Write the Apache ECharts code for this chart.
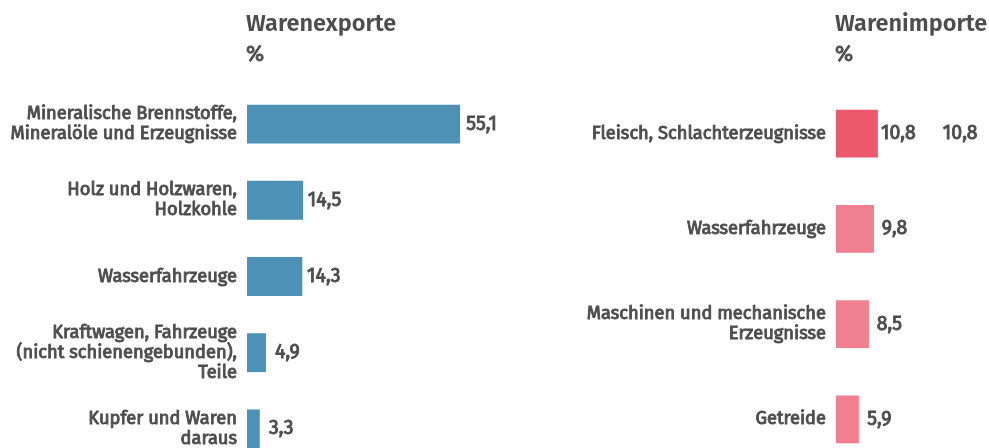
<!DOCTYPE html>
<html>
<head>
<meta charset="utf-8">
<script src="https://cdn.jsdelivr.net/npm/echarts@6/dist/echarts.min.js"></script>
<style>
	html, body { margin: 0; padding: 0; background: #fff; }
	#chart { width: 989px; height: 448px; }
</style>
</head>
<body>
<div id="chart"></div>
<script>
// Warenexporte
var exportCats = [
	'Mineralische Brennstoffe,\nMineralöle und Erzeugnisse',
	'Holz und Holzwaren,\nHolzkohle',
	'Wasserfahrzeuge',
	'Kraftwagen, Fahrzeuge\n(nicht schienengebunden),\nTeile',
	'Kupfer und Waren\ndaraus'
];
var exportValues = [55.1, 14.5, 14.3, 4.9, 3.3];

// Warenimporte
var importCats = [
	'Fleisch, Schlachterzeugnisse',
	'Wasserfahrzeuge',
	'Maschinen und mechanische\nErzeugnisse',
	'Getreide'
];
var importValues = [10.8, 9.8, 8.5, 5.9];

var FONT = '"Fira Sans", "Noto Sans", sans-serif';
var TXT = '#4d4d4d';

function fmt(v){
	return v.toFixed(1).replace('.', ',');
}

var valStyle = { fontSize: 19.5, color: TXT, fontFamily: FONT, textBorderColor: TXT, textBorderWidth: 0.9 };
var valueRich = {
	v: echarts.util.extend({ width: 35, align: 'center' }, valStyle),
	g: echarts.util.extend({ padding: [0, 0, 0, 27] }, valStyle)
};

function catAxis(idx, data){
	return {
		type: 'category',
		gridIndex: idx,
		inverse: true,
		data: data,
		axisLine: { show: false },
		axisTick: { show: false },
		axisLabel: {
			margin: 10,
			color: TXT,
			fontFamily: FONT,
			fontSize: 18.3,
			lineHeight: 20,
			textBorderColor: TXT,
			textBorderWidth: 0.9,
			align: 'right'
		}
	};
}

function valAxis(idx, max){
	return {
		type: 'value',
		gridIndex: idx,
		min: 0,
		max: max,
		show: false,
		splitLine: { show: false }
	};
}

var titleStyle = { fontFamily: FONT, fontSize: 23.5, fontWeight: 600, color: TXT };
var subStyle = { fontFamily: FONT, fontSize: 22, color: TXT, textBorderColor: TXT, textBorderWidth: 0.9 };

var chart = echarts.init(document.getElementById('chart'));
chart.setOption({
	animation: false,
	title: [{
		text: 'Warenexporte',
		subtext: '%',
		left: 241,
		top: 7,
		itemGap: 8,
		textStyle: titleStyle,
		subtextStyle: subStyle
	}, {
		text: 'Warenimporte',
		subtext: '%',
		left: 830,
		top: 7,
		itemGap: 8,
		textStyle: titleStyle,
		subtextStyle: subStyle
	}],
	grid: [
		{ left: 247, width: 232, top: 86, height: 381, outerBoundsMode: 'none', containLabel: false },
		{ left: 836, width: 155, top: 86, height: 381, outerBoundsMode: 'none', containLabel: false }
	],
	xAxis: [valAxis(0, 60), valAxis(1, 40)],
	yAxis: [catAxis(0, exportCats), catAxis(1, importCats)],
	series: [{
		type: 'bar',
		xAxisIndex: 0,
		yAxisIndex: 0,
		data: exportValues,
		barWidth: '51%',
		itemStyle: { color: '#4d91b6' },
		label: {
			show: true,
			position: 'right',
			distance: 4,
			formatter: function(p){ return '{v|' + fmt(p.value) + '}'; },
			rich: valueRich
		}
	}, {
		type: 'bar',
		xAxisIndex: 1,
		yAxisIndex: 1,
		data: importValues.map(function(v, i){
			return { value: v, itemStyle: { color: i === 0 ? '#ec596d' : '#f0808f' } };
		}),
		barWidth: '50%',
		label: {
			show: true,
			position: 'right',
			distance: 3,
			formatter: function(p){
				var s = '{v|' + fmt(p.value) + '}';
				if (p.dataIndex === 0) s += '{g|' + fmt(p.value) + '}';
				return s;
			},
			rich: valueRich
		}
	}]
});
</script>
</body>
</html>
